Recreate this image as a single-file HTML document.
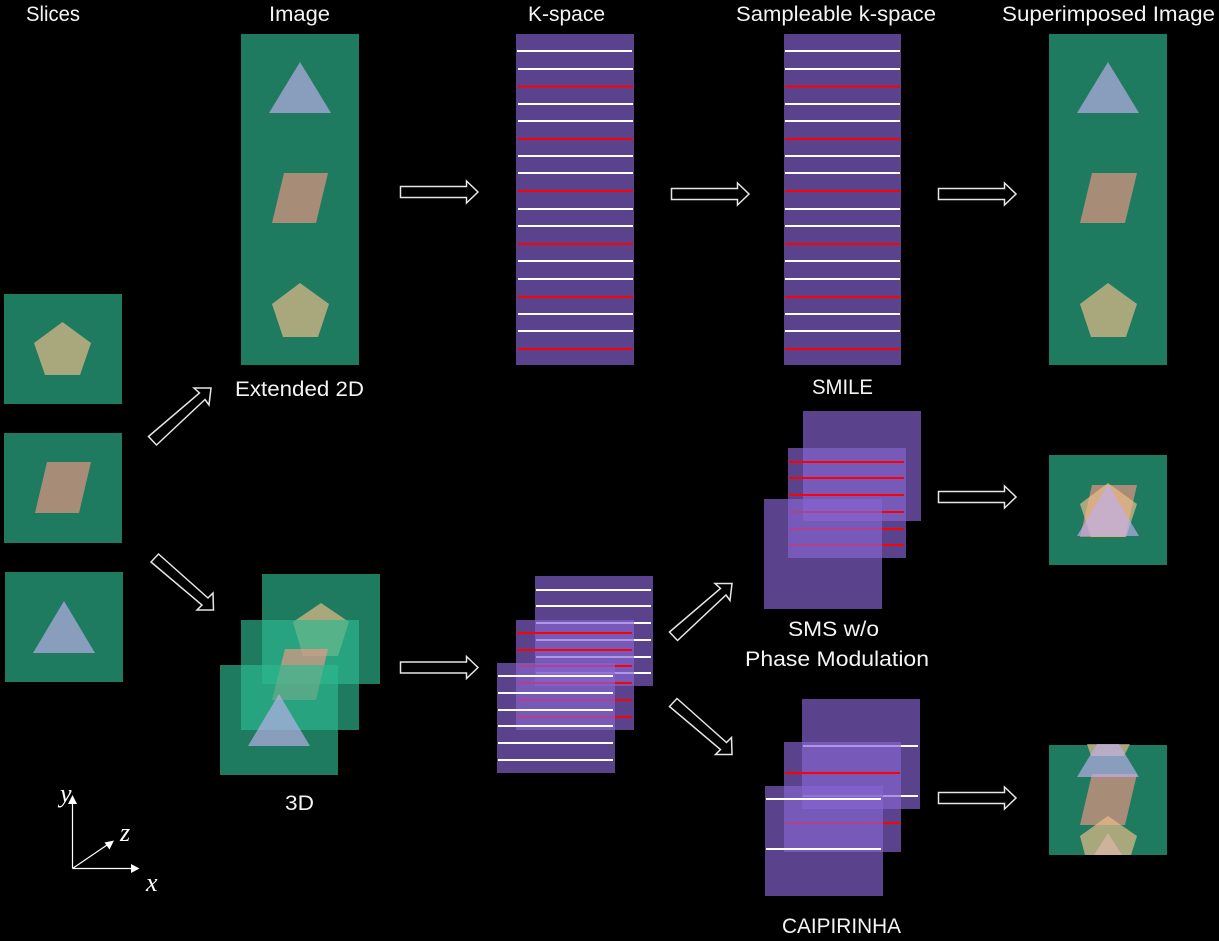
<!DOCTYPE html>
<html>
<head>
<meta charset="utf-8">
<style>
html,body{margin:0;padding:0;background:#000;width:1219px;height:941px;overflow:hidden}
svg{display:block}
text{font-family:"Liberation Sans",sans-serif;font-size:21px;fill:#f4f4f4}
.m{font-family:"Liberation Serif",serif;font-style:italic;font-size:26px;fill:#fff}
.g{fill:#2DB78F;fill-opacity:.67}
.p{fill:#8664D1;fill-opacity:.67}
.tri{fill:#BFAEEC;fill-opacity:.67}
.par{fill:#EC9784;fill-opacity:.67}
.pen{fill:#EFBE8A;fill-opacity:.67}
.w{stroke:#fff;stroke-width:2;fill:none}
.r{stroke:#f00;stroke-width:2;fill:none}
.a{fill:none;stroke:#e6e6e6;stroke-width:1.5}
</style>
</head>
<body>
<svg width="1219" height="941" viewBox="0 0 1219 941" xmlns="http://www.w3.org/2000/svg">
<rect width="1219" height="941" fill="#000"/>

<!-- titles -->
<text x="26" y="21" textLength="54" lengthAdjust="spacingAndGlyphs">Slices</text>
<text x="269" y="21" textLength="61" lengthAdjust="spacingAndGlyphs">Image</text>
<text x="528" y="21" textLength="77" lengthAdjust="spacingAndGlyphs">K-space</text>
<text x="736" y="21" textLength="200" lengthAdjust="spacingAndGlyphs">Sampleable k-space</text>
<text x="1002" y="21" textLength="213" lengthAdjust="spacingAndGlyphs">Superimposed Image</text>
<text x="235" y="396" textLength="129" lengthAdjust="spacingAndGlyphs">Extended 2D</text>
<text x="812" y="394" textLength="61" lengthAdjust="spacingAndGlyphs">SMILE</text>
<text x="788" y="636" textLength="91" lengthAdjust="spacingAndGlyphs">SMS w/o</text>
<text x="745" y="666" textLength="184" lengthAdjust="spacingAndGlyphs">Phase Modulation</text>
<text x="285" y="810" textLength="29" lengthAdjust="spacingAndGlyphs">3D</text>
<text x="782" y="933" textLength="119" lengthAdjust="spacingAndGlyphs">CAIPIRINHA</text>

<!-- slices -->
<rect class="g" x="4" y="294" width="118" height="110"/>
<polygon class="pen" points="62.5,322 91,343 80,375 45,375 34,343"/>
<rect class="g" x="4" y="433" width="118" height="110"/>
<polygon class="par" points="47,462 91,462 79,513 35,513"/>
<rect class="g" x="5" y="572" width="118" height="110"/>
<polygon class="tri" points="64,601 95,653 33,653"/>

<!-- extended 2D image -->
<rect class="g" x="241" y="34" width="118" height="331"/>
<polygon class="tri" points="300,62 331,113 269,113"/>
<polygon class="par" points="284,173 328,173 316,223 272,223"/>
<polygon class="pen" points="300,283 329,304 318,337 283,337 272,304"/>

<!-- k-space long -->
<rect class="p" x="516" y="34" width="118" height="331"/>
<path class="w" d="M517 51H632M518 69H633M518 104H633M518 121H633M518 156H633M518 173H633M518 209H633M518 226H633M518 261H633M518 279H633M518 314H633M518 331H633"/>
<path class="r" d="M518 86.500H633M518 139H633M518 191H633M518 244H633M518 297H633M518 349H633"/>

<rect class="p" x="784" y="34" width="117" height="331"/>
<path class="w" d="M785 51H900M785 69H900M785 104H900M785 121H900M785 156H900M785 173H900M785 209H900M785 226H900M785 261H900M785 279H900M785 314H900M785 331H900"/>
<path class="r" d="M785 86.500H900M785 139H900M785 191H900M785 244H900M785 297H900M785 349H900"/>

<!-- superimposed extended -->
<rect class="g" x="1049" y="34" width="118" height="331"/>
<polygon class="tri" points="1108,62 1139,113 1077,113"/>
<polygon class="par" points="1092,173 1137,173 1125,223 1080,223"/>
<polygon class="pen" points="1108,283 1137,304 1126,337 1091,337 1080,304"/>

<!-- 3D image stack -->
<rect class="g" x="262" y="574" width="118" height="110"/>
<polygon class="pen" points="321,603 349,622 338,656 303,656 293,622"/>
<rect class="g" x="241" y="620" width="118" height="110"/>
<polygon class="par" points="285,649 328,649 316,700 272,700"/>
<rect class="g" x="220" y="665" width="118" height="110"/>
<polygon class="tri" points="279,694 310,746 248,746"/>

<!-- 3D k-space stack -->
<rect class="p" x="535" y="576" width="118" height="110"/>
<path class="w" d="M536 590H651M536 606H651M536 623H651M536 640H651M536 657H651M536 673H651"/>
<rect class="p" x="516" y="620" width="118" height="110"/>
<path class="r" d="M517 633H632M517 650H632M517 666H632M517 683H632M517 700H632M517 717H632"/>
<rect class="p" x="497" y="663" width="118" height="110"/>
<path class="w" d="M498 676H613M498 693H613M498 710H613M498 726H613M498 743H613M498 760H613"/>

<!-- SMS stack -->
<rect class="p" x="803" y="411" width="118" height="110"/>
<rect class="p" x="788" y="448" width="118" height="110"/>
<path class="r" d="M789 462H904M789 478H904M789 495H904M789 512H904M789 529H904M789 545H904"/>
<rect class="p" x="764" y="499" width="118" height="110"/>

<!-- SMS superimposed -->
<rect class="g" x="1049" y="455" width="118" height="110"/>
<polygon class="par" points="1092,485 1137,485 1125,537 1080,537"/>
<polygon class="pen" points="1108,483 1137,504 1126,537 1091,537 1080,504"/>
<polygon class="tri" points="1108,484 1139,536 1077,536"/>

<!-- CAIPIRINHA stack -->
<rect class="p" x="802" y="699" width="118" height="110"/>
<path class="w" d="M803 746H918M803 796H918"/>
<rect class="p" x="784" y="742" width="117" height="110"/>
<path class="r" d="M785 773H900M785 823H900"/>
<rect class="p" x="765" y="786" width="118" height="110"/>
<path class="w" d="M766 799H881M766 849H881"/>

<!-- CAIPIRINHA superimposed -->
<rect class="g" x="1049" y="745" width="118" height="110"/>
<polygon class="tri" points="1108,833 1122,855 1094,855"/>
<polygon class="par" points="1092,774 1137,774 1125,825 1080,825"/>
<polygon class="pen" points="1108,816 1137,836 1131,855 1085,855 1080,836"/>
<polygon class="pen" points="1087,744 1130,744 1124,756 1091,756"/>
<polygon class="tri" points="1097,744 1119,744 1139,777 1077,777"/>

<!-- block arrows -->
<polygon class="a" points="400.500,186.500 466.500,186.500 466.500,181 478,192 466.500,203 466.500,197.500 400.500,197.500"/>
<polygon class="a" points="671.500,188.500 737.500,188.500 737.500,183 749,194 737.500,205 737.500,199.500 671.500,199.500"/>
<polygon class="a" points="938.500,188.500 1004.500,188.500 1004.500,183 1016,194 1004.500,205 1004.500,199.500 938.500,199.500"/>
<polygon class="a" points="400.500,662 466.500,662 466.500,656.500 478,667.500 466.500,678.500 466.500,673 400.500,673"/>
<polygon class="a" points="938.500,491.500 1004.500,491.500 1004.500,486 1016,497 1004.500,508 1004.500,502.500 938.500,502.500"/>
<polygon class="a" points="938.500,792.500 1004.500,792.500 1004.500,787 1016,798 1004.500,809 1004.500,803.500 938.500,803.500"/>

<polygon class="a" points="148.500,436.500 199.500,393 194,388 211,388 209,405 205,399.500 156.500,445"/>
<polygon class="a" points="669.500,632 720.500,588.500 715,583.500 732,583.500 730,600.500 726,595 677.500,640.500"/>
<polygon class="a" points="158.500,554 208,598 213,593 213.500,610 197,610 202,605 151,562"/>
<polygon class="a" points="677,698.500 726.500,742.500 731.500,737.500 732,754.500 715.500,754.500 720.500,749.500 669.500,706.500"/>

<!-- axes -->
<path d="M72.500 868.500V803M72.500 868.500H131M72.500 868.500L107 845" stroke="#fff" stroke-width="1.200" fill="none"/>
<polygon points="72.500,795 77,804 68,804" fill="#fff"/>
<polygon points="139.500,868.500 131,864 131,873" fill="#fff"/>
<polygon points="114,840.500 104.500,842.500 109.500,849.500" fill="#fff"/>
<text class="m" x="60" y="802">y</text>
<text class="m" x="120" y="841">z</text>
<text class="m" x="146" y="891">x</text>
</svg>
</body>
</html>
